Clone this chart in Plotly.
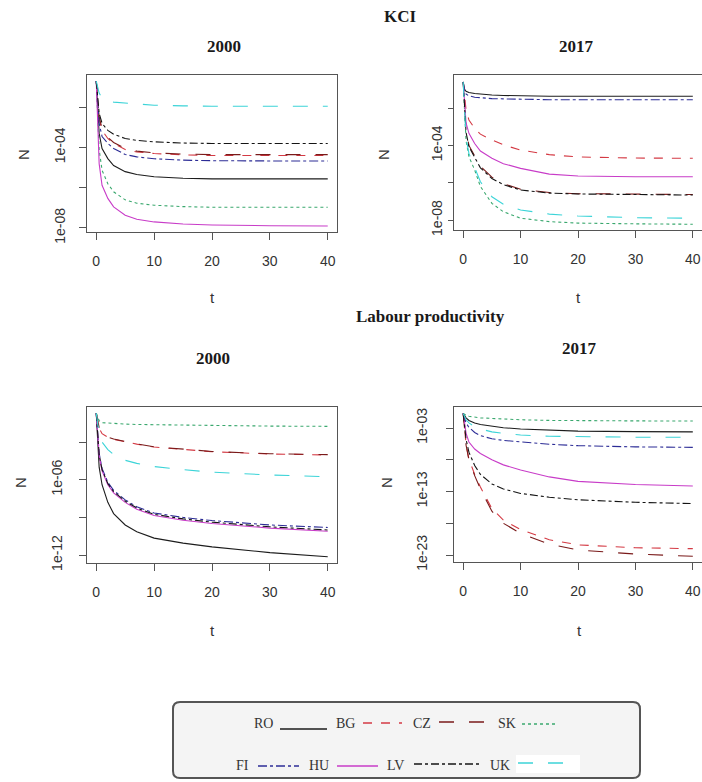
import plotly.graph_objects as go

W, H = 702, 782

T = [0, 0.25, 0.5, 1, 2, 3, 5, 7, 10, 15, 20, 30, 40]
COUNTRIES = ["RO", "BG", "CZ", "SK", "FI", "HU", "LV", "UK"]

# ---- KCI, 2000 ----
KCI_2000 = {
    "RO": [2.0e-1, 5.0e-3, 5.0e-4, 8.9e-5, 2.8e-5, 1.26e-5, 6.3e-6, 4.5e-6, 3.5e-6, 2.95e-6, 2.75e-6, 2.75e-6, 2.75e-6],
    "BG": [2.0e-1, 1.26e-2, 2.5e-3, 7.1e-4, 2.8e-4, 1.58e-4, 7.9e-5, 6.0e-5, 5.0e-5, 4.3e-5, 4.0e-5, 4.0e-5, 4.0e-5],
    "CZ": [2.0e-1, 1.58e-2, 3.2e-3, 8.9e-4, 3.2e-4, 1.78e-4, 8.9e-5, 6.6e-5, 5.4e-5, 4.7e-5, 4.4e-5, 4.4e-5, 4.4e-5],
    "SK": [2.0e-1, 1.58e-3, 7.9e-5, 7.4e-6, 1.58e-6, 6.3e-7, 2.5e-7, 1.7e-7, 1.35e-7, 1.15e-7, 1.07e-7, 1.07e-7, 1.07e-7],
    "FI": [2.0e-1, 1.0e-2, 1.58e-3, 3.5e-4, 1.58e-4, 8.9e-5, 4.5e-5, 3.4e-5, 2.75e-5, 2.34e-5, 2.2e-5, 2.14e-5, 2.14e-5],
    "HU": [2.0e-1, 5.0e-4, 1.58e-5, 1.32e-6, 2.95e-7, 1.12e-7, 4.3e-8, 2.7e-8, 2.0e-8, 1.58e-8, 1.41e-8, 1.29e-8, 1.26e-8],
    "LV": [2.0e-1, 2.0e-2, 5.0e-3, 1.58e-3, 7.1e-4, 4.5e-4, 2.8e-4, 2.24e-4, 1.9e-4, 1.66e-4, 1.58e-4, 1.58e-4, 1.58e-4],
    "UK": [2.0e-1, 8.9e-2, 5.0e-2, 2.8e-2, 2.0e-2, 1.78e-2, 1.58e-2, 1.41e-2, 1.26e-2, 1.17e-2, 1.12e-2, 1.12e-2, 1.12e-2],
}

# ---- KCI, 2017 ----
KCI_2017 = {
    "RO": [2.5e-1, 1.0e-1, 7.9e-2, 6.8e-2, 6.0e-2, 5.5e-2, 5.0e-2, 4.7e-2, 4.5e-2, 4.3e-2, 4.3e-2, 4.3e-2, 4.3e-2],
    "BG": [2.5e-1, 3.2e-2, 7.9e-3, 2.3e-3, 8.1e-4, 4.0e-4, 1.95e-4, 1.07e-4, 5.6e-5, 3.2e-5, 2.4e-5, 2.1e-5, 2.04e-5],
    "CZ": [2.5e-1, 5.0e-3, 6.3e-4, 1.0e-4, 2.8e-5, 7.6e-6, 2.0e-6, 8.9e-7, 4.5e-7, 3.0e-7, 2.6e-7, 2.4e-7, 2.34e-7],
    "SK": [2.5e-1, 2.0e-3, 1.78e-4, 2.5e-5, 4.8e-6, 6.3e-7, 7.9e-8, 2.8e-8, 1.26e-8, 8.3e-9, 6.9e-9, 6.3e-9, 6.0e-9],
    "FI": [2.5e-1, 7.9e-2, 5.6e-2, 4.5e-2, 3.8e-2, 3.5e-2, 3.2e-2, 3.1e-2, 2.95e-2, 2.8e-2, 2.8e-2, 2.8e-2, 2.8e-2],
    "HU": [2.5e-1, 1.0e-2, 1.58e-3, 4.4e-4, 1.26e-4, 5.0e-5, 2.04e-5, 1.05e-5, 5.9e-6, 2.9e-6, 2.3e-6, 2.1e-6, 2.1e-6],
    "LV": [2.5e-1, 4.0e-3, 5.0e-4, 8.5e-5, 2.5e-5, 6.3e-6, 1.7e-6, 7.9e-7, 4.1e-7, 2.8e-7, 2.5e-7, 2.24e-7, 2.2e-7],
    "UK": [2.5e-1, 2.5e-3, 2.5e-4, 3.7e-5, 7.2e-6, 1.12e-6, 1.78e-7, 7.1e-8, 3.5e-8, 2.1e-8, 1.66e-8, 1.35e-8, 1.26e-8],
}

# ---- Labour productivity, 2000 ----
LP_2000 = {
    "RO": [2.0e-1, 2.5e-4, 1.0e-5, 4.0e-7, 1.58e-8, 2.0e-9, 2.5e-10, 7.1e-11, 2.24e-11, 8.9e-12, 4.5e-12, 1.58e-12, 7.4e-13],
    "BG": [2.0e-1, 3.2e-2, 1.26e-2, 4.6e-3, 2.4e-3, 1.66e-3, 1.0e-3, 6.8e-4, 4.0e-4, 2.5e-4, 1.7e-4, 1.12e-4, 9.3e-5],
    "CZ": [2.0e-1, 3.5e-2, 1.41e-2, 5.0e-3, 2.5e-3, 1.74e-3, 1.05e-3, 7.1e-4, 4.2e-4, 2.6e-4, 1.78e-4, 1.17e-4, 1.0e-4],
    "SK": [2.0e-1, 7.9e-2, 5.0e-2, 3.5e-2, 3.2e-2, 2.95e-2, 2.7e-2, 2.5e-2, 2.4e-2, 2.2e-2, 2.04e-2, 1.86e-2, 1.78e-2],
    "FI": [2.0e-1, 1.58e-3, 1.26e-4, 7.9e-6, 6.3e-7, 1.41e-7, 2.5e-8, 7.1e-9, 2.24e-9, 1.0e-9, 5.6e-10, 2.5e-10, 1.58e-10],
    "HU": [2.0e-1, 1.0e-3, 7.9e-5, 5.0e-6, 4.0e-7, 8.9e-8, 1.58e-8, 4.5e-9, 1.41e-9, 6.0e-10, 3.3e-10, 1.41e-10, 7.9e-11],
    "LV": [2.0e-1, 1.26e-3, 1.0e-4, 6.3e-6, 5.0e-7, 1.12e-7, 2.0e-8, 5.6e-9, 1.78e-9, 7.6e-10, 4.2e-10, 1.78e-10, 1.0e-10],
    "UK": [2.0e-1, 1.58e-2, 4.0e-3, 1.0e-3, 2.5e-4, 1.0e-4, 3.5e-5, 2.0e-5, 1.12e-5, 6.3e-6, 4.0e-6, 2.4e-6, 1.74e-6],
}

# ---- Labour productivity, 2017 ----
LP_2017 = {
    "RO": [2.0e-1, 7.9e-2, 4.0e-2, 1.58e-2, 6.3e-3, 3.5e-3, 1.78e-3, 1.12e-3, 7.1e-4, 4.2e-4, 3.2e-4, 2.7e-4, 2.5e-4],
    "BG": [2.0e-1, 2.5e-4, 2.5e-6, 1.26e-8, 5.0e-11, 5.0e-13, 2.0e-16, 3.2e-18, 1.0e-19, 2.5e-21, 4.0e-22, 1.41e-22, 1.0e-22],
    "CZ": [2.0e-1, 2.0e-4, 2.0e-6, 1.0e-8, 3.2e-11, 2.5e-13, 7.9e-17, 1.0e-18, 2.5e-20, 5.0e-22, 6.3e-23, 1.41e-23, 6.3e-24],
    "SK": [2.0e-1, 1.26e-1, 1.0e-1, 7.1e-2, 5.0e-2, 4.0e-2, 3.2e-2, 2.5e-2, 2.0e-2, 1.58e-2, 1.41e-2, 1.32e-2, 1.26e-2],
    "FI": [2.0e-1, 2.5e-2, 6.3e-3, 1.26e-3, 2.0e-4, 6.3e-5, 2.0e-5, 1.12e-5, 6.3e-6, 2.8e-6, 1.66e-6, 1.07e-6, 9.1e-7],
    "HU": [2.0e-1, 2.5e-3, 1.58e-4, 6.3e-6, 5.0e-7, 1.0e-7, 1.0e-8, 1.58e-9, 2.5e-10, 2.0e-11, 4.0e-12, 1.26e-12, 7.4e-13],
    "LV": [2.0e-1, 6.3e-4, 1.58e-5, 1.58e-7, 1.26e-9, 5.0e-11, 1.58e-12, 2.5e-13, 5.0e-14, 1.26e-14, 5.0e-15, 2.0e-15, 1.26e-15],
    "UK": [2.0e-1, 5.0e-2, 2.0e-2, 6.3e-3, 1.58e-3, 7.1e-4, 2.5e-4, 1.41e-4, 7.9e-5, 5.0e-5, 4.2e-5, 3.6e-5, 3.5e-5],
}

X_TICKS = [0, 10, 20, 30, 40]
KCI_YTICKS = [1e-8, 1e-6, 1e-4, 1e-2]
KCI_YTEXT = ["1e-08", "", "1e-04", ""]
LP00_YTICKS = [1e-12, 1e-9, 1e-6, 1e-3]
LP00_YTEXT = ["1e-12", "", "1e-06", ""]
LP17_YTICKS = [1e-23, 1e-18, 1e-13, 1e-8, 1e-3]
LP17_YTEXT = ["1e-23", "", "1e-13", "", "1e-03"]

STYLE = {
    "RO": ("#1c1c1c", "solid"),
    "BG": ("#d43a44", "dash"),
    "CZ": ("#7a1a1a", "longdash"),
    "SK": ("#3aa86e", "dot"),
    "FI": ("#2c2c96", "dashdot"),
    "HU": ("#c83cc8", "solid"),
    "LV": ("#141414", "8px,3px,3px,3px"),
    "UK": ("#3cd4d8", "longdash"),
}


def fx(px):
    return px / W


def fy(py):
    return 1 - py / H


SANS = "Liberation Sans, Arial, sans-serif"
SERIF = "Liberation Serif, Times New Roman, serif"
AXC = "#555555"
TXT = "#333333"

panels = [
    # data, xaxis id, yaxis id, x px span, y px span, log range, yticks, ytext, label standoff, ticklen
    (KCI_2000, "x", "y", (87, 337), (75, 232), [-8.2, -0.4], KCI_YTICKS, KCI_YTEXT, 8, 7),
    (KCI_2017, "x2", "y2", (454, 702), (75, 230), [-8.53, -0.23], KCI_YTICKS, KCI_YTEXT, 0, 5),
    (LP_2000, "x3", "y3", (87, 337), (407, 563), [-12.63, -0.21], LP00_YTICKS, LP00_YTEXT, 11, 7),
    (LP_2017, "x4", "y4", (454, 702), (407, 562), [-24.1, 0.31], LP17_YTICKS, LP17_YTEXT, 13, 7),
]

fig = go.Figure()
layout = dict(
    width=W, height=H,
    margin=dict(l=0, r=0, t=0, b=0, pad=0, autoexpand=False),
    paper_bgcolor="white", plot_bgcolor="white",
    showlegend=False,
)

for data, xa, ya, (x0, x1), (y0, y1), yr, ytv, ytt, ystand, ylen in panels:
    for c in COUNTRIES:
        col, dash = STYLE[c]
        fig.add_trace(go.Scatter(
            x=T, y=data[c], mode="lines", name=c, xaxis=xa, yaxis=ya,
            line=dict(color=col, width=1.1, dash=dash), showlegend=False,
        ))
    xkey = "xaxis" + xa[1:]
    ykey = "yaxis" + ya[1:]
    layout[xkey] = dict(
        domain=[fx(x0), fx(x1)], anchor=ya, range=[-1.6, 41.6], automargin=False,
        tickvals=X_TICKS, ticks="outside", ticklen=7, tickcolor=AXC,
        showline=True, mirror=True, linecolor=AXC, linewidth=1,
        showgrid=False, zeroline=False, ticklabelstandoff=9,
        tickfont=dict(family=SANS, size=14, color=TXT),
    )
    layout[ykey] = dict(
        domain=[fy(y1), fy(y0)], anchor=xa, type="log", range=yr, automargin=False,
        tickvals=ytv, ticktext=ytt, tickangle=-90,
        ticks="outside", ticklen=ylen, tickcolor=AXC,
        showline=True, mirror=True, linecolor=AXC, linewidth=1,
        showgrid=False, zeroline=False, ticklabelstandoff=ystand,
        tickfont=dict(family=SANS, size=14, color=TXT),
    )

fig.update_layout(**layout)

annotations = []


def text(s, x, y, size, family, bold=False, angle=0, color="#1a1a1a"):
    annotations.append(dict(
        text=("<b>%s</b>" % s) if bold else s, x=fx(x), y=fy(y),
        xref="paper", yref="paper", showarrow=False,
        xanchor="center", yanchor="middle", textangle=angle,
        font=dict(family=family, size=size, color=color),
    ))


# titles
text("KCI", 400, 17, 17, SERIF, bold=True)
text("2000", 224, 47, 17, SERIF, bold=True)
text("2017", 576, 47, 17, SERIF, bold=True)
text("Labour productivity", 430, 316, 17, SERIF, bold=True)
text("2000", 213, 358, 17, SERIF, bold=True)
text("2017", 579, 348, 17, SERIF, bold=True)

# axis titles
for (tx, ty) in [(212, 297), (578, 297), (212, 630), (579, 630)]:
    text("t", tx, ty, 15, SANS, color=TXT)
for (nx, ny) in [(23, 155), (383, 155), (20, 483), (386, 483)]:
    text("N", nx, ny, 15, SANS, angle=-90, color=TXT)

# legend box
shapes = []
bx0, by0, bx1, by1, r = 173, 702, 640, 778, 7
path = (
    f"M {fx(bx0 + r)},{fy(by0)} L {fx(bx1 - r)},{fy(by0)} "
    f"Q {fx(bx1)},{fy(by0)} {fx(bx1)},{fy(by0 + r)} "
    f"L {fx(bx1)},{fy(by1 - r)} Q {fx(bx1)},{fy(by1)} {fx(bx1 - r)},{fy(by1)} "
    f"L {fx(bx0 + r)},{fy(by1)} Q {fx(bx0)},{fy(by1)} {fx(bx0)},{fy(by1 - r)} "
    f"L {fx(bx0)},{fy(by0 + r)} Q {fx(bx0)},{fy(by0)} {fx(bx0 + r)},{fy(by0)} Z"
)
shapes.append(dict(type="path", path=path, xref="paper", yref="paper",
                   fillcolor="#f4f4f4", line=dict(color="#555555", width=2)))
# white patch behind UK key
shapes.append(dict(type="rect", xref="paper", yref="paper",
                   x0=fx(516), x1=fx(580), y0=fy(773), y1=fy(755),
                   fillcolor="white", line=dict(width=0)))

LEGEND_ROWS = [
    # country, label center x, key x0, key x1, row y, key y
    ("RO", 263, 280, 327, 723, 729),
    ("BG", 345, 363, 402, 723, 723),
    ("CZ", 422, 439, 490, 723, 722),
    ("SK", 507, 522, 558, 723, 724),
    ("FI", 242, 258, 299, 765, 766),
    ("HU", 319, 337, 378, 765, 766),
    ("LV", 395, 414, 482, 765, 764),
    ("UK", 500, 518, 578, 765, 763),
]
for c, lx, k0, k1, ry, ky in LEGEND_ROWS:
    col, dash = STYLE[c]
    text(c, lx, ry, 14, SERIF, color=TXT)
    shapes.append(dict(type="line", xref="paper", yref="paper",
                       x0=fx(k0), x1=fx(k1), y0=fy(ky), y1=fy(ky),
                       line=dict(color=col, width=1.6, dash=dash)))

fig.update_layout(annotations=annotations, shapes=shapes)
# the page's default 8px body margin would push the 702x782 figure off-window
PAGE_FIX = (
    "document.documentElement.style.margin='0px';"
    "document.body.style.margin='0px';"
    "document.body.style.padding='0px';"
    "document.documentElement.style.overflow='hidden';"
    "document.body.style.overflow='hidden';"
)
fig.write_html("out.html", config={"displayModeBar": False}, post_script=PAGE_FIX)
